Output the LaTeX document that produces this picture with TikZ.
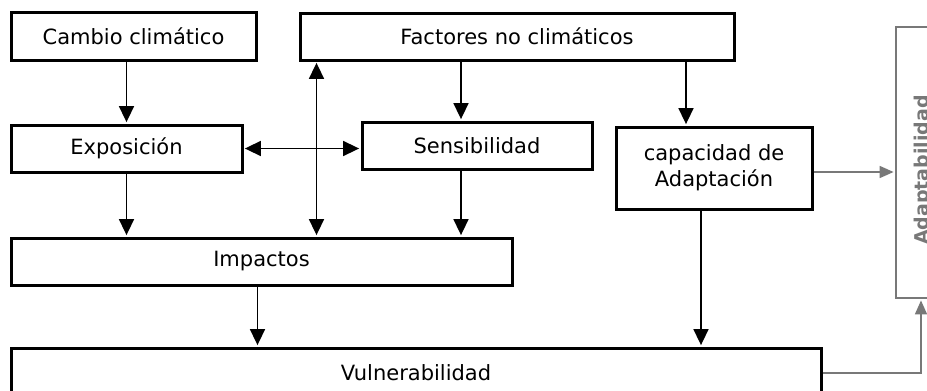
\documentclass[tikz,border=0pt]{standalone}
\usepackage{fontspec}
\setmainfont{DejaVu Sans}
\usepackage{tikz}
\usetikzlibrary{arrows.meta,calc}
\definecolor{boxgray}{RGB}{120,120,120}
\tikzset{rect/.style={
    draw,
    line width=3pt,
    inner sep=0pt,
    align=center,
    font=\fontsize{21}{26}\selectfont,
  },
  grayrect/.style={draw=boxgray, line width=2.4pt, inner sep=0pt},
  link/.style={line width=1.6pt, shorten >=1.4pt, -{Triangle[width=15pt,length=16pt]}},
  dlink/.style={line width=1.6pt, shorten >=1.4pt, shorten <=1.4pt,
    {Triangle[width=15pt,length=16pt]}-{Triangle[width=15pt,length=16pt]}},
  glink/.style={draw=boxgray, line width=1.6pt, shorten >=1.2pt, -{Triangle[width=12pt,length=14pt]}}}

\begin{document}
\begin{tikzpicture}[x=1pt, y=-1pt]
        \clip (0,0) rectangle (927,391);

        \node (camb) [rect, minimum width=245pt, minimum height=48pt] at (133.5,36) {Cambio climático};
        \node (fact) [rect, minimum width=434pt, minimum height=47pt] at (517,36.5) {Factores no climáticos};
        \node (expo) [rect, minimum width=231pt, minimum height=47pt] at (126.5,148.5) {Exposición};
        \node (sens) [rect, minimum width=230pt, minimum height=47pt] at (477,145.5) {Sensibilidad};
        \node (capa) [rect, minimum width=196pt, minimum height=82pt] at (714,168) {capacidad de\\Adaptación};
        \node (impa) [rect, minimum width=501pt, minimum height=47pt] at (261.5,261.5) {Impactos};
        \node (vuln) [rect, minimum width=810pt, minimum height=50pt] at (416,373) {Vulnerabilidad};

        \node (adap) [grayrect, minimum width=64pt, minimum height=271pt] at (928,162.5) {};
        \node (adaptxt) [rotate=90, anchor=base, inner sep=0pt, text=boxgray,
        font=\bfseries\fontsize{19}{23}\selectfont] at (928,170) {Adaptabilidad};

        % columns of the arrows
        \coordinate (vx) at ($(fact.south west) + (18,0)$);
        \coordinate (sx) at ($(sens.north) + (-16,0)$);
        \coordinate (cx) at ($(capa.north) + (-28,0)$);
        \coordinate (cy) at ($(capa.south) + (-13,0)$);
        \coordinate (ix) at ($(impa.south) + (-4,0)$);

        \draw[link] (expo.north |- camb.south) -- (expo.north);
        \draw[link] (expo.south) -- (expo.south |- impa.north);
        \draw[dlink] (expo.east) -- (expo.east -| sens.west);
        \draw[dlink] (vx) -- (vx |- impa.north);
        \draw[link] (sx |- fact.south) -- (sx);
        \draw[link] (sens.south -| sx) -- (sx |- impa.north);
        \draw[link] (cx |- fact.south) -- (cx);
        \draw[link] (cy) -- (cy |- vuln.north);
        \draw[link] (ix) -- (ix |- vuln.north);

        \draw[glink] ($(capa.east) + (0,4)$) -- ($(capa.east -| adap.west) + (0,4)$);
        \draw[glink] (vuln.east) -| ($(adap.south) + (-7,0)$);

      \end{tikzpicture}
\end{document}
